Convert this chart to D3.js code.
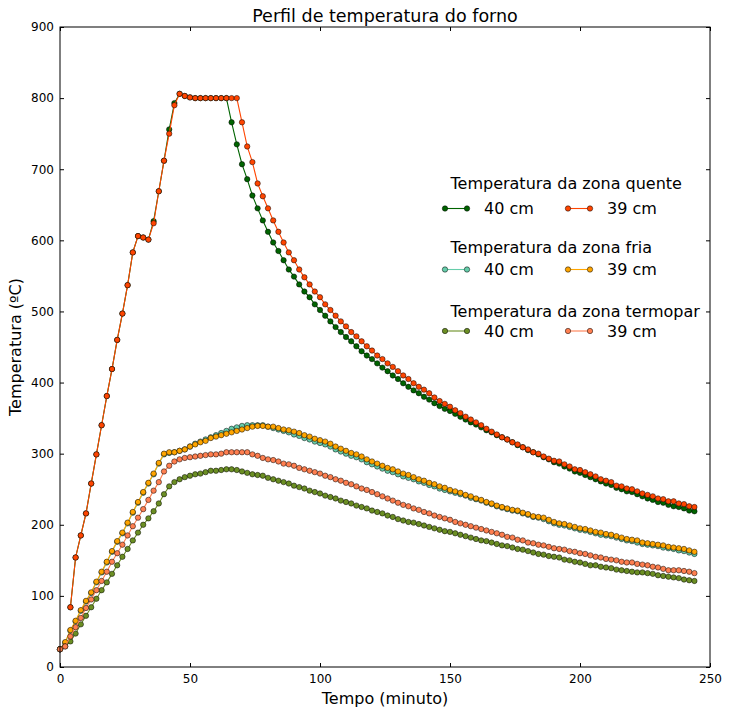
<!DOCTYPE html>
<html><head><meta charset="utf-8">
<script src="https://cdn.jsdelivr.net/npm/d3@7"></script>
<style>body{margin:0;background:#fff} text{font-family:"DejaVu Sans",sans-serif;fill:#000}</style>
</head><body><svg id="c" width="731" height="714"></svg>
<script>
// sampling grid (minutes)
const minutes = d3.range(0, 245, 2);

// Temperatura da zona quente
const hot40 = [
 25,null,84,154,185,216,258,299,340,381,
 419,460,497,537,583,606,604,601,627,669,
 712,756,793,806,803,801,800,800,800,800,
 800,800,800,766,735,707,686,663,645,628,
 612,597,585,572,559,549,538,528,520,510,
 502,494,486,478,471,464,458,451,444,438,
 433,427,421,416,410,405,399,394,389,385,
 380,376,371,367,363,360,356,352,348,344,
 341,337,333,330,326,323,320,316,312,309,
 305,302,299,295,292,288,286,282,279,275,
 273,270,267,264,261,258,256,252,250,247,
 246,243,240,237,235,232,231,228,226,225,
 223,220,219];
const hot39 = [
 25,null,84,154,185,216,258,299,340,381,
 419,460,497,537,583,606,604,601,624,669,
 712,750,790,806,803,801,800,800,800,800,
 800,800,800,800,800,766,732,710,680,662,
 645,628,612,597,583,572,559,548,538,528,
 520,510,502,494,486,479,471,465,458,451,
 445,438,433,427,422,416,410,405,399,394,
 390,385,379,374,370,366,361,357,352,348,
 344,340,335,331,327,323,320,316,313,309,
 306,302,300,296,293,290,289,285,282,278,
 277,274,271,268,264,262,260,255,254,251,
 250,247,244,242,240,237,236,233,233,230,
 229,226,225];
// Temperatura da zona fria
const cold40 = [
 25,34,51,64,79,92,104,119,133,147,
 162,176,188,202,217,231,245,258,271,286,
 299,301,302,304,306,310,314,317,320,323,
 326,329,332,335,337,339,340,340,340,340,
 338,336,334,332,330,327,325,322,320,317,
 315,313,310,306,303,300,297,295,292,288,
 285,282,279,276,274,271,268,266,264,261,
 259,256,254,251,249,247,245,243,241,238,
 236,234,231,229,226,224,222,220,219,216,
 214,211,210,208,205,202,200,199,197,195,
 193,192,190,188,186,185,184,182,180,178,
 177,175,173,172,171,170,168,167,166,164,
 163,161,159];
const cold39 = [
 25,35,52,65,80,93,105,120,134,148,
 163,177,189,203,218,232,246,259,272,287,
 300,302,302,304,306,310,313,316,318,322,
 324,326,328,330,332,334,336,338,339,339,
 338,338,336,334,333,331,329,326,324,321,
 319,317,314,310,307,304,301,299,296,292,
 289,286,283,280,278,275,272,270,267,264,
 262,259,257,254,252,249,247,245,242,240,
 237,235,232,230,227,225,223,221,220,217,
 215,212,211,210,207,204,202,201,199,197,
 195,194,192,190,189,187,186,184,182,180,
 179,178,175,174,173,172,171,169,168,167,
 166,164,162];
// Temperatura da zona termopar
const termo40 = [
 25,29,36,47,60,72,84,96,108,119,
 131,143,155,166,178,189,200,209,219,230,
 243,254,260,264,267,269,271,272,274,276,
 276,277,278,278,277,275,273,271,270,269,
 266,264,262,260,258,255,253,251,248,246,
 244,241,239,237,234,232,230,227,225,223,
 220,218,216,213,211,208,206,204,203,201,
 199,197,195,193,191,190,188,186,184,182,
 180,178,177,175,173,171,170,168,166,165,
 163,161,159,158,156,155,154,151,150,148,
 147,145,143,143,141,140,139,137,136,135,
 134,133,133,132,131,129,128,127,126,125,
 123,122,121];
const termo39 = [
 25,29,43,56,69,83,95,108,121,134,
 148,160,172,185,198,210,222,235,248,260,
 275,283,289,292,294,295,296,297,298,299,
 299,300,302,302,302,302,302,299,297,294,
 292,291,289,286,285,283,280,278,276,274,
 272,269,267,264,262,259,257,254,251,249,
 246,243,240,237,234,231,228,226,223,221,
 218,216,213,211,209,207,204,202,200,198,
 196,194,192,190,188,186,183,182,179,178,
 175,174,172,171,169,167,166,165,163,162,
 160,159,157,155,154,152,151,150,148,147,
 147,145,144,143,141,140,138,136,136,136,
 135,134,132];

const groupTitles = ["Temperatura da zona quente", "Temperatura da zona fria", "Temperatura da zona termopar"];
const seriesLabels = ["40 cm", "39 cm"];
const xTicks = [0, 50, 100, 150, 200, 250];
const yTicks = [0, 100, 200, 300, 400, 500, 600, 700, 800, 900];
const titleText = "Perfil de temperatura do forno";
const xLabel = "Tempo (minuto)";
const yLabel = "Temperatura (ºC)";

const series = [
  {g:0, k:0, values:hot40,  color:"#006400"},
  {g:0, k:1, values:hot39,  color:"#FF4500"},
  {g:1, k:0, values:cold40, color:"#66CDAA"},
  {g:1, k:1, values:cold39, color:"#FFA500"},
  {g:2, k:0, values:termo40,color:"#6B8E23"},
  {g:2, k:1, values:termo39,color:"#FF7F50"}
];

const svg = d3.select("#c");
const L = 60, R = 710, T = 27, B = 667;
const x = d3.scaleLinear().domain([0, 250]).range([L, R]);
const y = d3.scaleLinear().domain([0, 900]).range([B, T]);

// axes
const gx = svg.append("g").attr("transform", `translate(0,${B})`)
  .call(d3.axisBottom(x).tickValues(xTicks).tickSizeInner(-4).tickSizeOuter(0).tickPadding(7));
const gxt = svg.append("g").attr("transform", `translate(0,${T})`)
  .call(d3.axisTop(x).tickValues(xTicks).tickSizeInner(-4).tickSizeOuter(0).tickFormat(""));
const gy = svg.append("g").attr("transform", `translate(${L},0)`)
  .call(d3.axisLeft(y).tickValues(yTicks).tickSizeInner(-4).tickSizeOuter(0).tickPadding(6));
const gyr = svg.append("g").attr("transform", `translate(${R},0)`)
  .call(d3.axisRight(y).tickValues(yTicks).tickSizeInner(-4).tickSizeOuter(0).tickFormat(""));
[gx, gxt, gy, gyr].forEach(g => {
  g.select(".domain").remove();
  g.selectAll("text").attr("font-size", 12).attr("font-family", "DejaVu Sans").attr("fill", "#000");
  g.selectAll("line").attr("stroke", "#000");
});

// series
const line = d3.line().defined(d => d[1] != null).x(d => x(d[0])).y(d => y(d[1]));
series.forEach(s => {
  const pts = minutes.map((t, i) => [t, s.values[i]]);
  svg.append("path").datum(pts).attr("d", line).attr("fill", "none")
    .attr("stroke", s.color).attr("stroke-width", 1.1);
  svg.append("g").selectAll("circle").data(pts.filter(d => d[1] != null)).join("circle")
    .attr("cx", d => x(d[0])).attr("cy", d => y(d[1])).attr("r", 2.7)
    .attr("fill", s.color).attr("stroke", "#000").attr("stroke-width", 0.5);
});

// frame
svg.append("rect").attr("x", L).attr("y", T).attr("width", R - L).attr("height", B - T)
  .attr("fill", "none").attr("stroke", "#000").attr("stroke-width", 1);

// titles
svg.append("text").attr("x", (L + R) / 2).attr("y", 22).attr("text-anchor", "middle")
  .attr("font-size", 17.5).text(titleText);
svg.append("text").attr("x", (L + R) / 2).attr("y", 704).attr("text-anchor", "middle")
  .attr("font-size", 16).text(xLabel);
svg.append("text").attr("transform", `translate(21,${(T + B) / 2}) rotate(-90)`)
  .attr("text-anchor", "middle").attr("font-size", 16).text(yLabel);

// legend
const legTitleY = [188.5, 252.5, 316.5];
const legRowY = [208.5, 269.5, 331];
const colX = [445, 568];
groupTitles.forEach((tt, g) => {
  svg.append("text").attr("x", 450.5).attr("y", legTitleY[g]).attr("font-size", 16).text(tt);
  series.filter(s => s.g === g).forEach(s => {
    const x0 = colX[s.k], yy = legRowY[g];
    svg.append("line").attr("x1", x0).attr("x2", x0 + 22).attr("y1", yy).attr("y2", yy)
      .attr("stroke", s.color).attr("stroke-width", 1.1);
    [x0, x0 + 22].forEach(cx => svg.append("circle").attr("cx", cx).attr("cy", yy).attr("r", 2.7)
      .attr("fill", s.color).attr("stroke", "#000").attr("stroke-width", 0.5));
    svg.append("text").attr("x", x0 + 39).attr("y", yy + 5.8).attr("font-size", 16).text(seriesLabels[s.k]);
  });
});
</script></body></html>
